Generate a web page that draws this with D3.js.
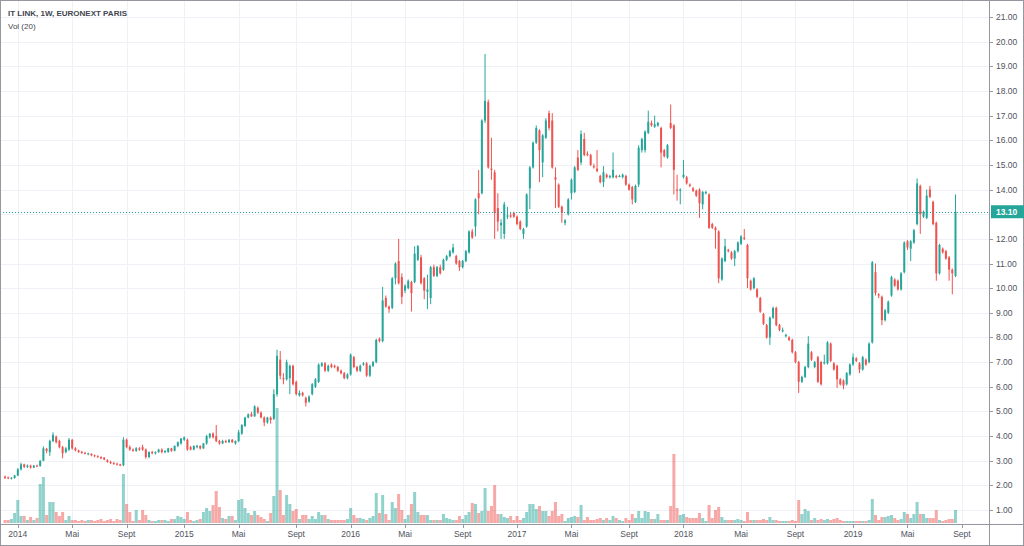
<!DOCTYPE html>
<html><head><meta charset="utf-8">
<script src="https://cdn.jsdelivr.net/npm/d3@7/dist/d3.min.js"></script>
<style>html,body{margin:0;padding:0;background:#fff;}svg{display:block;}</style>
</head><body>
<svg id="chart" width="1024" height="546"></svg>
<script>
const title = "IT LINK, 1W, EURONEXT PARIS";
const subtitle = "Vol (20)";
const firstWeek = "2013-12-09";
const lastPrice = 13.10;
const priceTicks = [1,2,3,4,5,6,7,8,9,10,11,12,13,14,15,16,17,18,19,20,21];
const monthLabels = {0: null, 4: "Mai", 8: "Sept"};

const opens = [2.35,2.32,2.27,2.30,2.40,2.65,2.85,2.75,2.80,2.72,
2.80,2.78,3.00,3.48,3.35,3.80,3.98,3.80,3.55,3.35,
3.45,3.85,3.50,3.42,3.35,3.32,3.26,3.28,3.22,3.18,
3.15,3.12,3.02,2.95,2.90,2.88,2.85,2.82,3.85,3.55,
3.45,3.40,3.50,3.55,3.45,3.15,3.35,3.30,3.35,3.45,
3.35,3.35,3.50,3.40,3.60,3.70,3.85,3.85,3.55,3.45,
3.55,3.60,3.50,3.70,3.95,4.10,4.00,3.80,3.70,3.80,
3.75,3.85,3.70,3.80,4.10,4.40,4.75,4.90,4.80,5.15,
4.95,4.75,4.55,4.75,4.70,5.70,7.10,6.35,6.30,6.35,
6.85,6.20,5.65,5.75,5.55,5.40,5.70,6.00,6.20,6.85,
6.95,6.65,6.90,6.85,6.80,6.65,6.55,6.35,6.50,7.20,
6.80,6.65,6.90,6.95,6.45,6.85,7.00,7.95,7.85,9.60,
9.25,9.20,10.40,11.10,10.45,9.90,10.00,10.25,10.25,11.15,
11.25,10.40,9.85,9.60,10.85,10.50,10.85,10.75,11.15,11.30,
11.45,11.30,11.10,10.85,11.10,11.45,12.30,12.50,13.85,13.85,
16.80,17.55,14.85,14.70,13.25,12.55,12.20,12.90,12.95,13.05,
12.90,12.70,12.20,12.50,14.05,14.90,15.90,16.40,15.10,16.10,
17.10,16.80,14.50,14.20,13.30,12.65,13.00,13.85,13.90,15.30,
15.10,16.05,15.45,15.40,14.95,14.85,14.55,14.30,14.60,14.50,
14.50,14.55,14.55,14.50,14.55,14.20,14.10,13.50,14.20,15.60,
15.60,16.30,16.70,16.55,16.60,16.50,15.60,15.30,16.70,16.60,
14.00,13.95,14.50,14.50,14.20,14.05,13.95,14.00,13.40,13.85,
13.80,12.60,12.45,12.30,10.35,11.10,11.55,11.45,11.20,11.50,
11.80,12.05,11.75,10.30,10.00,9.95,9.60,8.95,8.50,8.00,
8.80,9.20,8.50,8.25,8.05,8.00,7.90,7.40,7.00,6.20,
6.40,6.80,7.40,6.80,7.20,7.00,6.95,6.95,7.75,6.95,
6.85,6.30,6.25,6.10,6.50,6.90,7.15,6.95,6.70,7.10,
7.00,7.80,10.65,9.75,9.65,8.70,9.00,9.70,10.35,10.30,
9.95,10.65,11.90,11.60,11.85,12.60,14.15,12.90,12.85,14.00,
13.50,12.65,10.60,11.60,11.50,11.25,10.75,10.50];

const highs = [2.40,2.36,2.33,2.42,2.70,2.92,2.88,2.85,2.84,2.83,
2.84,3.02,3.58,3.52,3.85,4.15,4.02,3.85,3.60,3.55,
3.92,3.88,3.55,3.45,3.40,3.36,3.32,3.30,3.25,3.22,
3.18,3.15,3.06,3.00,2.95,2.92,2.88,3.95,3.90,3.62,
3.50,3.55,3.55,3.65,3.50,3.38,3.40,3.38,3.48,3.50,
3.42,3.52,3.52,3.62,3.78,3.92,3.98,3.90,3.60,3.62,
3.65,3.62,3.72,4.05,4.12,4.15,4.45,3.85,3.85,3.85,
3.88,3.88,3.82,4.25,4.48,4.78,4.92,4.98,5.25,5.20,
5.00,4.80,4.78,4.80,5.90,7.50,7.45,6.55,7.10,6.90,
6.90,6.25,5.85,5.80,5.60,5.65,6.15,6.35,6.95,7.00,
7.00,6.90,6.95,6.90,6.85,6.70,6.60,6.55,7.35,7.25,
6.85,6.90,7.00,7.00,6.90,7.05,7.95,8.00,10.05,9.70,
9.30,10.45,11.05,12.00,10.60,10.15,10.35,10.30,11.70,11.75,
11.35,10.45,10.55,10.90,10.95,10.90,10.95,11.20,11.35,11.55,
11.80,11.35,11.15,11.15,11.55,12.35,12.40,13.65,14.80,16.85,
19.50,17.65,16.10,14.80,13.85,12.80,13.50,13.30,13.05,13.10,
12.95,12.75,12.45,13.85,14.95,15.95,16.60,16.45,16.25,16.90,
17.20,17.10,14.90,14.25,13.35,12.80,13.65,14.45,14.95,15.60,
16.40,16.30,15.55,15.45,15.05,15.60,14.60,14.95,14.65,14.60,
15.50,14.60,14.60,14.65,14.60,14.25,14.15,14.20,15.80,16.10,
16.40,17.20,16.80,17.00,16.75,16.55,15.65,15.85,17.45,16.65,
14.60,14.05,15.20,14.55,14.25,14.10,14.00,14.05,13.95,13.95,
13.85,12.65,12.50,12.35,11.25,12.00,11.60,11.50,11.55,11.90,
12.15,12.40,11.80,10.35,10.45,10.00,9.65,9.00,8.55,8.85,
9.25,9.25,8.55,8.40,8.15,8.05,7.95,7.45,7.05,6.45,
6.85,8.05,7.45,7.05,7.25,7.05,7.30,7.85,7.80,7.00,
6.90,6.35,6.30,6.60,6.95,7.35,7.20,7.00,7.25,7.15,
7.80,11.10,11.00,9.80,9.70,9.15,9.50,10.50,10.40,10.35,
10.65,11.90,11.95,11.95,12.40,14.45,14.20,13.15,14.00,14.15,
13.55,12.70,11.80,11.65,11.55,11.30,10.80,13.80];

const lows = [2.26,2.25,2.24,2.27,2.38,2.60,2.70,2.70,2.68,2.70,
2.74,2.76,2.98,3.30,3.20,3.75,3.70,3.50,3.10,3.30,
3.40,3.45,3.38,3.32,3.28,3.26,3.22,3.18,3.14,3.12,
3.06,3.02,2.92,2.86,2.84,2.80,2.78,2.78,3.50,3.40,
3.36,3.36,3.40,3.40,3.08,3.10,3.26,3.25,3.32,3.30,
3.30,3.32,3.36,3.38,3.55,3.65,3.80,3.40,3.42,3.42,
3.50,3.45,3.48,3.65,3.90,3.90,3.75,3.65,3.68,3.72,
3.72,3.72,3.65,3.75,4.05,4.38,4.72,4.78,4.78,4.90,
4.72,4.40,4.50,4.50,4.65,5.60,6.30,6.10,6.25,5.70,
6.05,5.65,5.60,5.60,5.20,5.35,5.65,5.95,6.15,6.80,
6.60,6.60,6.75,6.75,6.60,6.50,6.30,6.30,6.45,6.75,
6.60,6.60,6.85,6.40,6.40,6.80,6.95,7.80,7.80,9.20,
9.00,9.15,10.15,10.15,9.35,9.80,9.95,9.05,10.20,11.10,
10.15,9.55,9.15,9.35,10.45,10.45,10.55,10.70,11.10,11.25,
11.40,10.95,10.70,10.80,11.05,11.40,12.00,12.10,13.00,13.80,
16.70,14.85,14.40,12.00,12.30,12.00,12.00,12.80,12.85,12.85,
12.55,12.35,12.00,12.45,13.20,14.85,15.85,14.30,14.50,16.05,
16.40,14.85,13.25,13.25,12.65,12.55,12.95,13.60,13.85,14.75,
15.00,15.35,15.35,14.95,14.85,14.70,14.25,14.10,14.45,14.45,
14.45,14.45,14.50,14.45,14.15,13.95,13.40,13.45,14.10,15.50,
15.50,16.25,16.55,16.50,16.55,14.90,15.30,15.25,16.45,13.80,
13.55,13.40,14.45,14.20,14.10,13.90,13.70,12.85,13.20,13.80,
12.40,12.40,11.60,10.20,10.30,11.05,11.45,11.15,10.90,11.45,
11.75,11.95,10.00,9.90,9.95,9.60,9.00,8.50,7.95,7.70,
8.75,8.45,8.25,8.20,8.00,7.85,7.35,6.95,5.75,6.15,
6.35,6.75,7.05,6.75,6.15,6.05,6.90,6.90,7.00,6.65,
5.95,6.05,5.90,6.05,6.45,6.85,7.00,6.55,6.65,6.85,
6.95,7.75,9.70,9.60,8.50,8.65,8.95,9.65,10.05,9.90,
9.90,10.60,11.55,11.10,11.80,12.55,12.20,12.85,12.80,13.65,
12.55,10.30,10.55,11.40,11.15,10.30,9.75,10.45];

const closes = [2.30,2.28,2.31,2.40,2.65,2.85,2.75,2.80,2.72,2.80,
2.78,3.00,3.50,3.40,3.80,4.05,3.75,3.55,3.30,3.50,
3.85,3.50,3.42,3.35,3.32,3.28,3.30,3.22,3.18,3.15,
3.10,3.05,2.95,2.90,2.88,2.85,2.80,3.85,3.55,3.45,
3.40,3.50,3.45,3.45,3.15,3.35,3.30,3.35,3.45,3.35,
3.40,3.50,3.40,3.60,3.75,3.90,3.95,3.45,3.45,3.60,
3.60,3.50,3.70,4.00,4.10,3.95,3.80,3.70,3.80,3.75,
3.85,3.75,3.80,4.15,4.45,4.75,4.88,4.80,5.20,4.95,
4.75,4.55,4.75,4.65,5.70,7.25,6.45,6.30,7.00,6.85,
6.10,5.70,5.75,5.65,5.35,5.60,6.10,6.30,6.90,6.95,
6.65,6.85,6.80,6.80,6.65,6.55,6.35,6.50,7.30,6.80,
6.65,6.85,6.95,6.45,6.85,7.00,7.90,7.85,9.50,9.25,
9.15,10.40,11.00,10.20,9.65,10.10,10.30,9.80,11.40,11.70,
10.20,9.90,9.95,10.85,10.50,10.85,10.60,11.15,11.30,11.50,
11.65,11.00,10.85,11.10,11.50,12.30,12.05,13.60,13.65,16.80,
17.60,14.90,14.80,13.05,12.70,12.65,13.40,12.95,12.90,12.90,
12.60,12.40,12.40,13.80,14.90,15.90,16.50,15.60,16.20,16.80,
16.50,14.90,14.40,13.30,13.05,12.75,13.60,14.40,14.90,14.80,
16.25,15.40,15.40,15.00,14.90,14.75,14.30,14.70,14.50,14.55,
14.80,14.50,14.55,14.60,14.20,14.00,13.60,14.15,15.70,16.05,
16.35,16.75,16.60,16.65,16.70,15.50,15.35,15.80,16.50,14.80,
13.95,14.00,14.60,14.25,14.15,13.95,13.75,13.45,13.90,13.90,
12.45,12.45,12.35,10.40,11.20,11.70,11.50,11.20,11.50,11.85,
12.10,12.00,10.40,9.95,10.40,9.65,9.05,8.55,8.00,8.80,
9.20,8.50,8.30,8.30,8.10,7.90,7.40,7.00,6.20,6.40,
6.80,7.75,7.10,7.00,6.20,6.10,7.00,7.80,7.05,6.70,
6.30,6.10,6.05,6.55,6.90,7.20,7.05,6.70,7.20,6.90,
7.75,11.05,9.80,9.70,8.70,9.10,9.45,10.45,10.10,9.95,
10.60,11.85,11.65,11.90,12.35,14.25,13.00,13.10,13.75,13.70,
12.60,10.60,11.75,11.45,11.20,10.75,10.60,13.10];

const volumes = [3,3,4,10,23,7,7,3,6,3,
5,39,46,8,21,21,11,7,11,3,
7,3,3,2,3,2,3,3,2,3,
4,2,3,4,2,4,3,49,19,11,
2,13,3,13,8,3,2,2,3,3,
3,2,4,4,7,6,4,11,3,2,
3,4,11,15,12,18,32,16,5,4,
7,7,3,23,24,15,10,8,12,8,
6,4,2,10,27,115,33,8,28,19,
12,14,4,8,8,4,7,4,11,8,
8,4,3,3,3,3,3,4,15,8,
5,5,4,3,5,7,30,10,28,9,
3,21,15,29,13,4,8,19,31,11,
8,8,8,3,3,3,3,9,5,4,
3,3,7,4,8,11,20,19,10,12,
35,12,17,38,9,9,6,5,7,3,
7,3,5,11,19,19,14,17,12,12,
7,12,21,7,9,2,5,6,7,6,
18,3,6,3,3,4,5,3,5,3,
7,5,3,2,5,3,9,5,12,5,
12,11,4,4,9,3,3,3,17,69,
15,8,9,6,5,5,5,10,5,2,
18,5,13,16,6,3,3,3,3,4,
3,2,11,3,3,3,3,4,3,6,
3,3,2,2,2,2,3,2,23,9,
14,12,3,5,3,4,3,4,3,4,
5,3,2,2,2,2,2,2,2,2,
3,24,8,3,6,6,7,8,5,3,
4,11,9,5,9,21,9,9,5,5,
5,13,3,2,3,4,4,13];

const UP = "#26a69a", DOWN = "#ef5350";
const UPV = "rgba(38,166,154,0.5)", DOWNV = "rgba(239,83,80,0.5)";
const W = 1024, H = 546, plotRight = 989, axisY = 524;
const FONT = "'Liberation Sans', Arial, sans-serif";

const n = closes.length;
const t0 = new Date(firstWeek + "T00:00:00");
const dateOf = i => new Date(t0.getTime() + i * 7 * 86400000);

const x = d3.scaleLinear().domain([0, n - 1]).range([5, 955.5]);
const y = d3.scaleLinear().domain([1, 21]).range([510, 17]);
const yv = d3.scaleLinear().domain([0, 100]).range([523, 423]);

const svg = d3.select("#chart");

const xTicks = [];
for (let i = 1; i < n + 3; i++) {
  const a = dateOf(i - 1), b = dateOf(i);
  if (a.getMonth() !== b.getMonth() && (b.getMonth() in monthLabels)) {
    xTicks.push({i, label: b.getMonth() === 0 ? String(b.getFullYear()) : monthLabels[b.getMonth()]});
  }
}

const grid = svg.append("g");
grid.selectAll("line.h").data(priceTicks).join("line")
  .attr("x1", 0).attr("x2", plotRight).attr("y1", d => Math.round(y(d)) + 0.5).attr("y2", d => Math.round(y(d)) + 0.5)
  .attr("stroke", "#eef1f6").attr("stroke-width", 1);
grid.selectAll("line.v").data(xTicks).join("line")
  .attr("x1", d => Math.round(x(d.i)) + 0.5).attr("x2", d => Math.round(x(d.i)) + 0.5).attr("y1", 0).attr("y2", axisY)
  .attr("stroke", "#eef1f6").attr("stroke-width", 1);

const idx = d3.range(n);
svg.append("g").selectAll("rect").data(idx).join("rect")
  .attr("x", i => x(i) - 1.5).attr("width", 3)
  .attr("y", i => yv(volumes[i])).attr("height", i => yv(0) - yv(volumes[i]))
  .attr("fill", i => closes[i] >= opens[i] ? UPV : DOWNV);

const cg = svg.append("g");
cg.selectAll("line").data(idx).join("line")
  .attr("x1", i => x(i)).attr("x2", i => x(i))
  .attr("y1", i => y(highs[i])).attr("y2", i => y(lows[i]))
  .attr("stroke", i => closes[i] >= opens[i] ? UP : DOWN).attr("stroke-width", 1);
cg.selectAll("rect").data(idx).join("rect")
  .attr("x", i => x(i) - 1).attr("width", 2)
  .attr("y", i => y(Math.max(opens[i], closes[i])))
  .attr("height", i => Math.max(1, Math.abs(y(opens[i]) - y(closes[i]))))
  .attr("fill", i => closes[i] >= opens[i] ? UP : DOWN);

svg.append("line").attr("x1", 0).attr("x2", plotRight)
  .attr("y1", Math.round(y(lastPrice)) + 0.5).attr("y2", Math.round(y(lastPrice)) + 0.5)
  .attr("stroke", UP).attr("stroke-width", 1).attr("stroke-dasharray", "1,2");

svg.append("line").attr("x1", plotRight + 0.5).attr("x2", plotRight + 0.5).attr("y1", 0).attr("y2", H)
  .attr("stroke", "#9598a1");
svg.append("line").attr("x1", 0).attr("x2", W).attr("y1", axisY + 0.5).attr("y2", axisY + 0.5)
  .attr("stroke", "#9598a1");
svg.append("rect").attr("x", 0.5).attr("y", 0.5).attr("width", W - 1).attr("height", H - 1)
  .attr("fill", "none").attr("stroke", "#9598a1");

const ly = y(lastPrice);
const shownTicks = priceTicks.filter(d => Math.abs(y(d) - ly) > 12);
const pa = svg.append("g");
pa.selectAll("line").data(shownTicks).join("line")
  .attr("x1", plotRight).attr("x2", plotRight + 4)
  .attr("y1", d => Math.round(y(d)) + 0.5).attr("y2", d => Math.round(y(d)) + 0.5).attr("stroke", "#9598a1");
pa.selectAll("text").data(shownTicks).join("text")
  .attr("x", plotRight + 7).attr("y", d => y(d) + 3)
  .attr("font-family", FONT).attr("font-size", 8.5).attr("fill", "#50535e")
  .text(d => d3.format(".2f")(d));

svg.append("rect").attr("x", plotRight + 2).attr("y", ly - 6.5).attr("width", 33).attr("height", 13).attr("fill", UP);
svg.append("text").attr("x", plotRight + 7).attr("y", ly + 3)
  .attr("font-family", FONT).attr("font-size", 8.5).attr("font-weight", "bold").attr("fill", "#fff")
  .text(d3.format(".2f")(lastPrice));

const ta = svg.append("g");
ta.selectAll("line").data(xTicks).join("line")
  .attr("x1", d => Math.round(x(d.i)) + 0.5).attr("x2", d => Math.round(x(d.i)) + 0.5)
  .attr("y1", axisY).attr("y2", axisY + 4).attr("stroke", "#9598a1");
ta.selectAll("text").data(xTicks).join("text")
  .attr("x", d => x(d.i)).attr("y", 537).attr("text-anchor", "middle")
  .attr("font-family", FONT).attr("font-size", 8.5).attr("fill", "#50535e")
  .text(d => d.label);

svg.append("text").attr("x", 8).attr("y", 16).attr("font-family", FONT).attr("font-size", 8)
  .attr("font-weight", "bold").attr("fill", "#434651").text(title);
svg.append("text").attr("x", 8).attr("y", 29).attr("font-family", FONT).attr("font-size", 8)
  .attr("fill", "#434651").text(subtitle);
</script>
</body></html>
